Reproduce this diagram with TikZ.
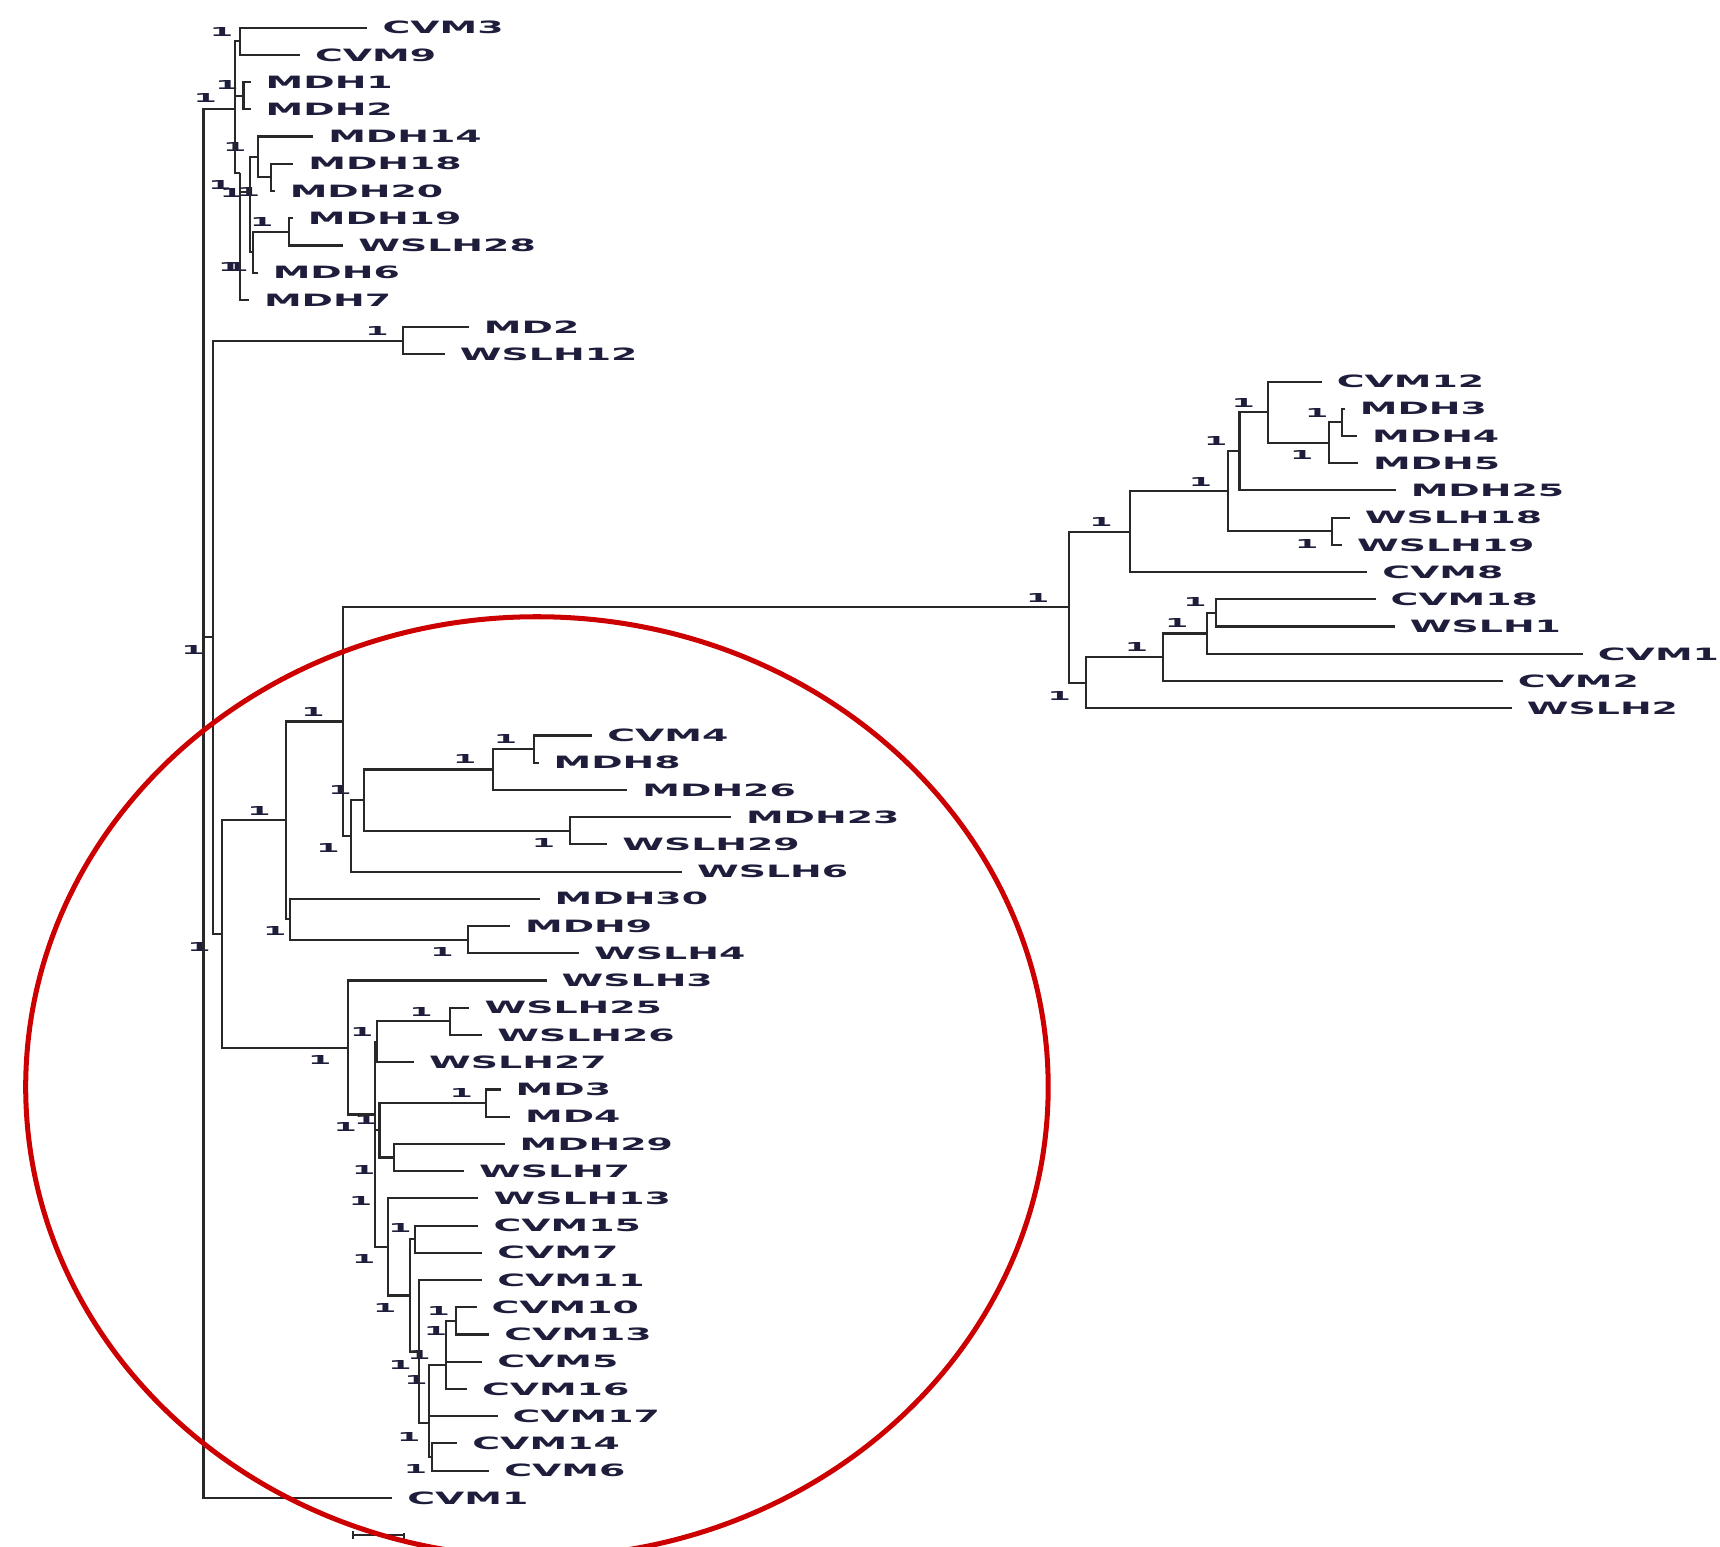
\documentclass[tikz,border=0pt]{standalone}
\usepackage{fontspec}
\usepackage{graphicx}
\newfontfamily\treefont{DejaVu Sans}
\definecolor{branchgray}{RGB}{40,40,40}
\definecolor{tipnavy}{RGB}{30,30,60}
\definecolor{ringred}{RGB}{204,0,0}
\newcommand\leafname[1]{\scalebox{2.23}[1]{#1}}
\newcommand\bootval{\scalebox{2.7}[1]{1}}
\begin{document}
\begin{tikzpicture}[x=0.01cm,y=-0.01cm,
  every edge/.style={draw=branchgray,line width=0.55pt,to path={|- (\tikztotarget)}},
  leaf/.style={anchor=west,inner xsep=0.13cm,inner ysep=0pt,text=tipnavy,font=\treefont\bfseries\fontsize{4.4pt}{5pt}\selectfont},
  boot/.style={inner sep=0pt,text=tipnavy,font=\treefont\bfseries\fontsize{3.2pt}{4pt}\selectfont},
  ring/.style={draw=ringred,line width=1.3pt}]
                \useasboundingbox (0,0) rectangle (1568,1410);
                \coordinate (root) at (185.5,700);
                \coordinate (A) at (214,99.7);
                \coordinate (C39) at (219,37.6);
                \coordinate (M12) at (222,87.3);
                \coordinate (F) at (219,158);
                \coordinate (D) at (228,175);
                \coordinate (M14) at (235.5,143.1);
                \coordinate (M1820) at (246.7,161.7);
                \coordinate (E) at (231,230);
                \coordinate (MW28) at (263.8,211.4);
                \coordinate (R2) at (194,581);
                \coordinate (MDW12) at (367.4,310.6);
                \coordinate (R3) at (202.5,851.5);
                \coordinate (R4) at (261,747.9);
                \coordinate (R6) at (312.4,657.8);
                \coordinate (R7) at (319.8,762);
                \coordinate (R8) at (332,729.5);
                \coordinate (R9) at (449.8,701.5);
                \coordinate (CM48) at (486.8,682.9);
                \coordinate (MW23) at (519.7,757.4);
                \coordinate (R5) at (264.5,838);
                \coordinate (MW4) at (427,856.7);
                \coordinate (S1) at (317.6,955);
                \coordinate (S2) at (341.5,1016);
                \coordinate (S3) at (343.5,949.7);
                \coordinate (W2526) at (410,931.1);
                \coordinate (S4) at (346,1030.4);
                \coordinate (MD34) at (443,1005.6);
                \coordinate (MW7) at (359.4,1055.2);
                \coordinate (W13) at (353.5,1136.7);
                \coordinate (S6) at (373.4,1181);
                \coordinate (C157) at (378.7,1129.7);
                \coordinate (S7) at (382,1232.2);
                \coordinate (S8) at (391,1297.5);
                \coordinate (S9) at (406.6,1244);
                \coordinate (S11) at (416,1204.1);
                \coordinate (S10) at (393.5,1328.2);
                \coordinate (T1) at (974.5,553.7);
                \coordinate (T2) at (1030,484.8);
                \coordinate (T4) at (1119.6,448);
                \coordinate (T5) at (1130,411.5);
                \coordinate (T6) at (1155.6,375.8);
                \coordinate (T7) at (1211.7,403.7);
                \coordinate (M34) at (1223.4,385.1);
                \coordinate (W1819) at (1214.2,484.4);
                \coordinate (T3) at (990,622.5);
                \coordinate (T8) at (1060.2,599.2);
                \coordinate (T9) at (1100,577.5);
                \coordinate (T10) at (1108.3,558.8);
                \node[leaf](cvm3)at(335,25.2){\leafname{CVM3}};
                \node[leaf](cvm9)at(273.5,50){\leafname{CVM9}};
                \node[leaf](mdh1)at(228.5,74.8){\leafname{MDH1}};
                \node[leaf](mdh2)at(228.5,99.7){\leafname{MDH2}};
                \node[leaf](mdh14)at(285.6,124.5){\leafname{MDH14}};
                \node[leaf](mdh18)at(267.4,149.3){\leafname{MDH18}};
                \node[leaf](mdh20)at(250.5,174.1){\leafname{MDH20}};
                \node[leaf](mdh19)at(267,198.9){\leafname{MDH19}};
                \node[leaf](wslh28)at(313,223.8){\leafname{WSLH28}};
                \node[leaf](mdh6)at(235,248.6){\leafname{MDH6}};
                \node[leaf](mdh7)at(227,273.4){\leafname{MDH7}};
                \node[leaf](md2)at(427.5,298.2){\leafname{MD2}};
                \node[leaf](wslh12)at(405.6,323){\leafname{WSLH12}};
                \node[leaf](cvm12)at(1205,347.9){\leafname{CVM12}};
                \node[leaf](mdh3)at(1226,372.7){\leafname{MDH3}};
                \node[leaf](mdh4)at(1237.2,397.5){\leafname{MDH4}};
                \node[leaf](mdh5)at(1238,422.3){\leafname{MDH5}};
                \node[leaf](mdh25)at(1272.4,447.1){\leafname{MDH25}};
                \node[leaf](wslh18)at(1230.5,472){\leafname{WSLH18}};
                \node[leaf](wslh19)at(1223.4,496.8){\leafname{WSLH19}};
                \node[leaf](cvm8)at(1246.4,521.6){\leafname{CVM8}};
                \node[leaf](cvm18)at(1254,546.4){\leafname{CVM18}};
                \node[leaf](wslh1)at(1271.6,571.2){\leafname{WSLH1}};
                \node[leaf](cvm1b)at(1443,596.1){\leafname{CVM1}};
                \node[leaf](cvm2)at(1370,620.9){\leafname{CVM2}};
                \node[leaf](wslh2)at(1378.3,645.7){\leafname{WSLH2}};
                \node[leaf](cvm4)at(540,670.5){\leafname{CVM4}};
                \node[leaf](mdh8)at(491,695.3){\leafname{MDH8}};
                \node[leaf](mdh26)at(572,720.2){\leafname{MDH26}};
                \node[leaf](mdh23)at(666.4,745){\leafname{MDH23}};
                \node[leaf](wslh29)at(553.6,769.8){\leafname{WSLH29}};
                \node[leaf](wslh6)at(621.7,794.6){\leafname{WSLH6}};
                \node[leaf](mdh30)at(492,819.4){\leafname{MDH30}};
                \node[leaf](mdh9)at(465,844.3){\leafname{MDH9}};
                \node[leaf](wslh4)at(528,869.1){\leafname{WSLH4}};
                \node[leaf](wslh3)at(498.3,893.9){\leafname{WSLH3}};
                \node[leaf](wslh25)at(428,918.7){\leafname{WSLH25}};
                \node[leaf](wslh26)at(439.7,943.5){\leafname{WSLH26}};
                \node[leaf](wslh27)at(377.6,968.4){\leafname{WSLH27}};
                \node[leaf](md3)at(456.4,993.2){\leafname{MD3}};
                \node[leaf](md4)at(465,1018){\leafname{MD4}};
                \node[leaf](mdh29)at(460,1042.8){\leafname{MDH29}};
                \node[leaf](wslh7)at(423,1067.6){\leafname{WSLH7}};
                \node[leaf](wslh13)at(436.2,1092.5){\leafname{WSLH13}};
                \node[leaf](cvm15)at(436.2,1117.3){\leafname{CVM15}};
                \node[leaf](cvm7)at(439.7,1142.1){\leafname{CVM7}};
                \node[leaf](cvm11)at(439.7,1166.9){\leafname{CVM11}};
                \node[leaf](cvm10)at(434.5,1191.7){\leafname{CVM10}};
                \node[leaf](cvm13)at(446,1216.6){\leafname{CVM13}};
                \node[leaf](cvm5)at(439.7,1241.4){\leafname{CVM5}};
                \node[leaf](cvm16)at(425.7,1266.2){\leafname{CVM16}};
                \node[leaf](cvm17)at(453.6,1291){\leafname{CVM17}};
                \node[leaf](cvm14)at(417,1315.8){\leafname{CVM14}};
                \node[leaf](cvm6)at(446,1340.7){\leafname{CVM6}};
                \node[leaf](cvm1a)at(357.7,1365.5){\leafname{CVM1}};
                \node[boot](b1)at(202,29.5){\bootval};
                \node[boot](b2)at(207,77.5){\bootval};
                \node[boot](b3)at(187,89){\bootval};
                \node[boot](b4)at(214,134){\bootval};
                \node[boot](b5)at(200.5,168.6){\bootval};
                \node[boot](b6)at(211,176){\bootval};
                \node[boot](b7)at(226.4,174.7){\bootval};
                \node[boot](b8)at(238.5,202){\bootval};
                \node[boot](b9)at(209.5,243){\bootval};
                \node[boot](b10)at(216,243){\bootval};
                \node[boot](b11)at(343.7,301.7){\bootval};
                \node[boot](b12)at(176,592.5){\bootval};
                \node[boot](b13)at(181.5,863){\bootval};
                \node[boot](b14)at(236,739.5){\bootval};
                \node[boot](b15)at(285.3,648.8){\bootval};
                \node[boot](b16)at(946,545){\bootval};
                \node[boot](b17)at(310,720){\bootval};
                \node[boot](b18)at(299,772.7){\bootval};
                \node[boot](b19)at(423.6,692){\bootval};
                \node[boot](b20)at(460.7,674){\bootval};
                \node[boot](b21)at(495.5,768.8){\bootval};
                \node[boot](b22)at(250.4,849){\bootval};
                \node[boot](b23)at(403,868){\bootval};
                \node[boot](b24)at(291.4,966.3){\bootval};
                \node[boot](b25)at(383.8,922.2){\bootval};
                \node[boot](b26)at(329.8,940.5){\bootval};
                \node[boot](b27)at(420.5,996.7){\bootval};
                \node[boot](b28)at(314.8,1027){\bootval};
                \node[boot](b29)at(333.3,1021){\bootval};
                \node[boot](b30)at(331.5,1067){\bootval};
                \node[boot](b31)at(328.7,1094.5){\bootval};
                \node[boot](b32)at(364.6,1119.7){\bootval};
                \node[boot](b33)at(331.5,1148){\bootval};
                \node[boot](b34)at(350.7,1192.6){\bootval};
                \node[boot](b35)at(399.5,1194.8){\bootval};
                \node[boot](b36)at(397,1213){\bootval};
                \node[boot](b37)at(382,1235){\bootval};
                \node[boot](b38)at(364.6,1244.3){\bootval};
                \node[boot](b39)at(379.2,1258){\bootval};
                \node[boot](b40)at(372.7,1309.6){\bootval};
                \node[boot](b41)at(378.7,1339.4){\bootval};
                \node[boot](b42)at(1003.6,476){\bootval};
                \node[boot](b43)at(965.6,634.5){\bootval};
                \node[boot](b44)at(1094.4,439){\bootval};
                \node[boot](b45)at(1191.2,496.2){\bootval};
                \node[boot](b46)at(1108.3,402){\bootval};
                \node[boot](b47)at(1133.4,367.7){\bootval};
                \node[boot](b48)at(1186.6,414.8){\bootval};
                \node[boot](b49)at(1200.4,376.2){\bootval};
                \node[boot](b50)at(1036,589.5){\bootval};
                \node[boot](b51)at(1072.8,568.2){\bootval};
                \node[boot](b52)at(1089.4,549){\bootval};
                \path(root) edge (A) (root) edge (R2) (root) edge (cvm1a)
                (A) edge (C39) (A) edge (M12) (A) edge (F)
                (C39) edge (cvm3) (C39) edge (cvm9)
                (M12) edge (mdh1) (M12) edge (mdh2)
                (F) edge (D) (F) edge (mdh7)
                (D) edge (M14) (D) edge (E)
                (M14) edge (mdh14) (M14) edge (M1820)
                (M1820) edge (mdh18) (M1820) edge (mdh20)
                (E) edge (MW28) (E) edge (mdh6)
                (MW28) edge (mdh19) (MW28) edge (wslh28)
                (R2) edge (MDW12) (R2) edge (R3)
                (MDW12) edge (md2) (MDW12) edge (wslh12)
                (R3) edge (R4) (R3) edge (S1)
                (R4) edge (R6) (R4) edge (R5)
                (R6) edge (T1) (R6) edge (R7)
                (R7) edge (R8) (R7) edge (wslh6)
                (R8) edge (R9) (R8) edge (MW23)
                (R9) edge (CM48) (R9) edge (mdh26)
                (CM48) edge (cvm4) (CM48) edge (mdh8)
                (MW23) edge (mdh23) (MW23) edge (wslh29)
                (R5) edge (mdh30) (R5) edge (MW4)
                (MW4) edge (mdh9) (MW4) edge (wslh4)
                (S1) edge (wslh3) (S1) edge (S2)
                (S2) edge (S3) (S2) edge (S4) (S2) edge (W13)
                (S3) edge (W2526) (S3) edge (wslh27)
                (W2526) edge (wslh25) (W2526) edge (wslh26)
                (S4) edge (MD34) (S4) edge (MW7)
                (MD34) edge (md3) (MD34) edge (md4)
                (MW7) edge (mdh29) (MW7) edge (wslh7)
                (W13) edge (wslh13) (W13) edge (S6)
                (S6) edge (C157) (S6) edge (S7)
                (C157) edge (cvm15) (C157) edge (cvm7)
                (S7) edge (cvm11) (S7) edge (S8)
                (S8) edge (S9) (S8) edge (cvm17) (S8) edge (S10)
                (S9) edge (S11) (S9) edge (cvm5) (S9) edge (cvm16)
                (S11) edge (cvm10) (S11) edge (cvm13)
                (S10) edge (cvm14) (S10) edge (cvm6)
                (T1) edge (T2) (T1) edge (T3)
                (T2) edge (T4) (T2) edge (cvm8)
                (T4) edge (T5) (T4) edge (W1819)
                (T5) edge (T6) (T5) edge (mdh25)
                (T6) edge (cvm12) (T6) edge (T7)
                (T7) edge (M34) (T7) edge (mdh5)
                (M34) edge (mdh3) (M34) edge (mdh4)
                (W1819) edge (wslh18) (W1819) edge (wslh19)
                (T3) edge (T8) (T3) edge (wslh2)
                (T8) edge (T9) (T8) edge (cvm2)
                (T9) edge (T10) (T9) edge (cvm1b)
                (T10) edge (cvm18) (T10) edge (wslh1);
                \coordinate (barl) at (322,1399.3);
                \coordinate (barr) at (368.5,1399.3);
                \draw[draw=branchgray,line width=0.55pt] (barl) -- (barr)
                ([yshift=-0.04cm]barl) -- ([yshift=0.04cm]barl)
                ([yshift=-0.04cm]barr) -- ([yshift=0.02cm]barr);
                \begin{scope}
                \clip (0,0) rectangle (1568,1410);
                \draw[ring] (489.5,990.9) ellipse [x radius=4.658cm, y radius=4.284cm];
                \end{scope}
            \end{tikzpicture}
\end{document}
